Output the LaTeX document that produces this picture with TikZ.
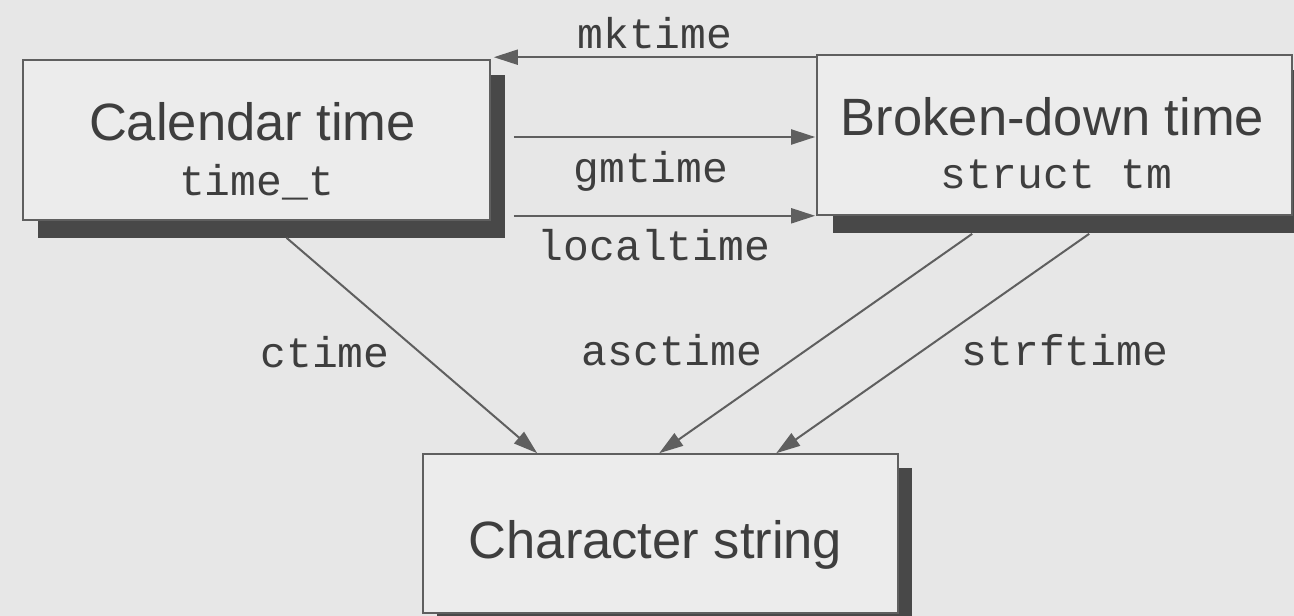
\documentclass[tikz,border=0pt]{standalone}
\usepackage{fontspec}
\setmainfont{Liberation Sans}
\newfontfamily\monof{Liberation Mono}
\usetikzlibrary{arrows.meta,calc}
\definecolor{bgc}{RGB}{231,231,231}
\definecolor{boxc}{RGB}{236,236,236}
\definecolor{shadc}{RGB}{72,72,72}
\definecolor{linec}{RGB}{95,95,95}
\definecolor{textc}{RGB}{62,62,62}
\tikzset{
  box/.style={draw=linec, line width=1.6pt, fill=boxc, inner sep=0pt},
  title/.style={text=textc, inner sep=0pt, anchor=base, font=\fontsize{52.5}{60}\selectfont},
  code/.style={text=textc, inner sep=0pt, anchor=base, font=\monof\fontsize{43}{50}\selectfont},
  arr/.style={draw=linec, line width=2pt, -{Triangle[length=24pt,width=15pt]}},
  shad/.style={fill=shadc}
}
\begin{document}
\begin{tikzpicture}[x=1pt,y=-1pt]
\useasboundingbox (0,0) rectangle (1294,616);
\fill[bgc] (0,0) rectangle (1294,616);
% shadows
\fill[shad] (38,75) rectangle (505,238);
\fill[shad] (833,70) rectangle (1308,233);
\fill[shad] (437,468) rectangle (912,630);
% boxes
\node[box, minimum width=467pt, minimum height=160pt] (cal) at (256.5,140) {};
\node[box, minimum width=475pt, minimum height=160pt] (brk) at (1054.5,135) {};
\node[box, minimum width=475pt, minimum height=159pt] (chr) at (660.5,533.5) {};
% texts
\node[title] (calT) at ($(cal.center)+(-4,0)$) {Calendar time};
\node[code] (calC) at ($(cal.center)+(0,55)$) {time\_t};
\node[title] (brkT) at ($(brk.center)+(-2,0)$) {Broken-down time};
\node[code] (brkC) at ($(brk.center)+(2,53)$) {struct tm};
\node[title] (chrT) at ($(chr.center)+(-5,24.5)$) {Character string};
% horizontal connectors
\draw[arr] ($(brk.north west)+(0,3)$) coordinate (m1) -- (m1 -| {$(cal.east)+(3,0)$});
\draw[arr] ($(cal.east)+(23,-3)$) coordinate (g1) -- ($(g1 -| brk.west)+(-1,0)$);
\draw[arr] ($(cal.south east)+(23,-5)$) coordinate (l1) -- ($(l1 -| brk.west)+(-1,0)$);
\node[code] (mkL) at (655,48) {mktime};
\node[code] (gmL) at (651,182) {gmtime};
\node[code] (loL) at (654,260) {localtime};
% diagonal connectors
\draw[arr] ($(cal.south)+(30,17)$) -- ($(chr.north west)+(115,0)$);
\draw[arr] ($(brk.south west)+(156,18)$) -- ($(chr.north west)+(237,0)$);
\draw[arr] ($(brk.south west)+(273,18)$) -- ($(chr.north west)+(354,0)$);
\node[code] (ctL) at (325,367) {ctime};
\node[code] (asL) at (672,365) {asctime};
\node[code] (stL) at (1065,365) {strftime};
\end{tikzpicture}
\end{document}
